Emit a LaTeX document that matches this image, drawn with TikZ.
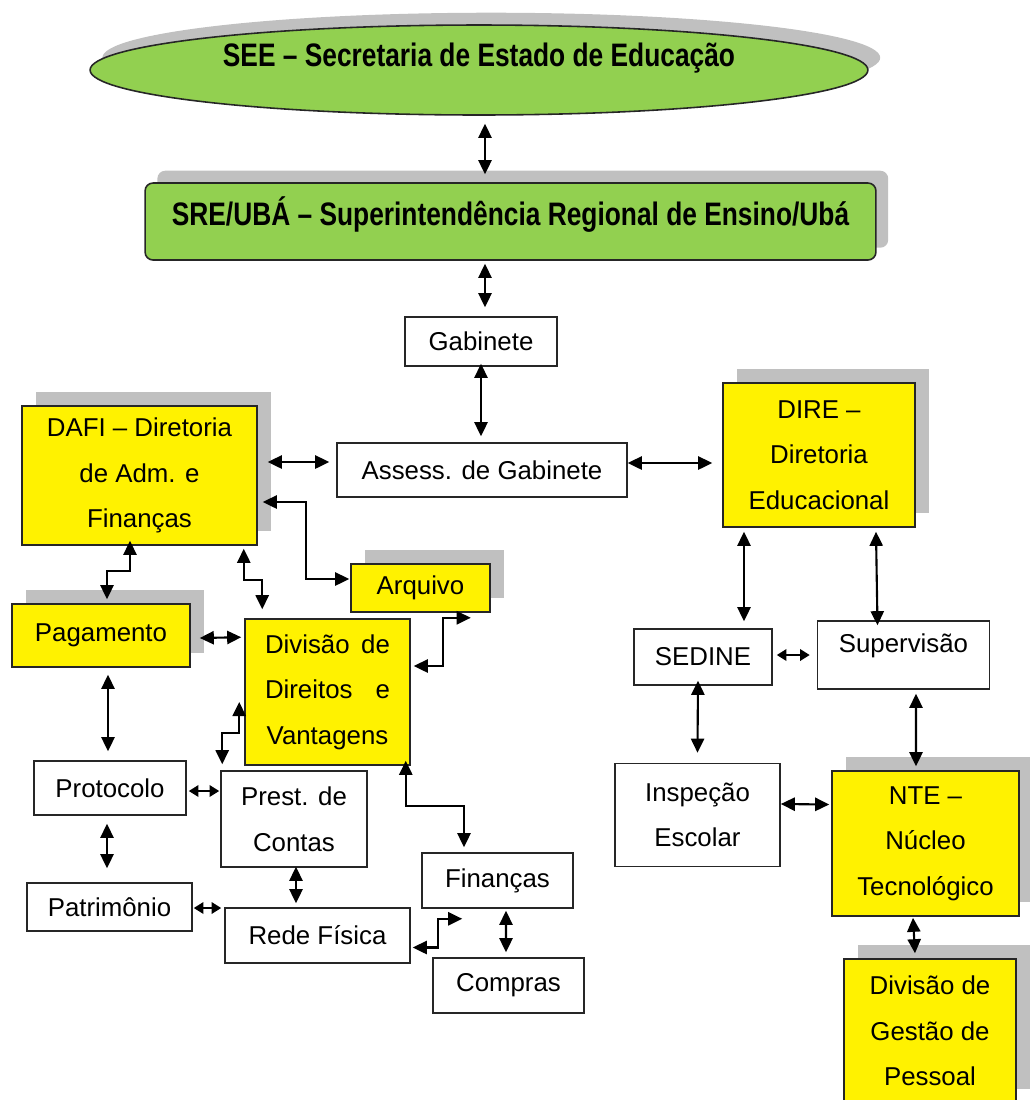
\documentclass[tikz,border=0pt]{standalone}
\usepackage{fontspec}
\setmainfont{Liberation Sans}
\newfontfamily\titlefont[FakeStretch=0.81]{Liberation Sans}
\usepackage{tikz}
\usetikzlibrary{arrows.meta,shapes,shadows}
\definecolor{boxgreen}{HTML}{92D050}
\definecolor{shadowgray}{HTML}{C0C0C0}
\tikzstyle{unit}=[draw=black!85, line width=0.9pt, fill=white, inner sep=0pt,
                  align=center, font=\fontsize{14.7pt}{26pt}\selectfont]
\tikzstyle{dept}=[unit, fill=yellow, drop shadow={shadow xshift=8pt,
                  shadow yshift=8pt, fill=shadowgray, opacity=1}]
\tikzstyle{head}=[draw=black!85, line width=0.9pt, fill=boxgreen, inner sep=0pt,
                  font=\titlefont\bfseries\fontsize{18.5pt}{22pt}\selectfont,
                  drop shadow={shadow xshift=7pt, shadow yshift=7pt,
                  fill=shadowgray, opacity=1}]
\tikzstyle{link}=[<->, >={Triangle[length=8pt,width=7.5pt]}, line width=1.2pt]
\tikzstyle{shortlink}=[link, >={Triangle[length=5.5pt,width=6.5pt]}]

\begin{document}
\begin{tikzpicture}[x=0.02cm, y=-0.02cm]
\useasboundingbox (0,0) rectangle (1029,1100);
\node[head, ellipse, minimum width=15.56cm, minimum height=1.8cm, text depth=17pt]
  (see) at (479,70) {SEE – Secretaria de Estado de Educação};
\node[head, rounded corners=4.5pt, minimum width=14.62cm, minimum height=1.54cm,
  text depth=12pt] (sre) at (510.5,221.5) {SRE/UBÁ – Superintendência Regional de Ensino/Ubá};
\node[unit, minimum width=3.04cm, minimum height=0.98cm] (gab) at (481,341.5) {Gabinete};
\node[unit, minimum width=5.8cm, minimum height=1.08cm] (assess) at (482,470) {Assess. de Gabinete};
% administrativo
\node[dept, minimum width=4.7cm, minimum height=2.78cm] (dafi) at (139.5,475.5)
  {DAFI – Diretoria\\de Adm. e\\Finanças};
\node[dept, minimum width=2.78cm, minimum height=0.96cm] (arquivo) at (420.5,588) {Arquivo};
\node[dept, minimum width=3.56cm, minimum height=1.26cm] (pag) at (101,635.5) {Pagamento};
\node[unit, fill=yellow, minimum width=3.3cm, minimum height=2.92cm, text width=2.5cm]
  (ddv) at (327.5,692) {Divisão\hfill de\\Direitos\hfill e\\Vantagens};
\node[unit, minimum width=3.04cm, minimum height=1.08cm] (prot) at (110,788) {Protocolo};
\node[unit, minimum width=2.92cm, minimum height=1.92cm] (prest) at (294,819) {Prest. de\\Contas};
\node[unit, minimum width=3.3cm, minimum height=0.96cm] (patr) at (109.5,907) {Patrimônio};
\node[unit, minimum width=3.7cm, minimum height=1.1cm] (rede) at (317.5,935.5) {Rede Física};
\node[unit, minimum width=3.02cm, minimum height=1.1cm] (fin) at (497.5,880.5) {Finanças};
\node[unit, minimum width=3.02cm, minimum height=1.1cm] (comp) at (508.5,985.5) {Compras};
% educacional
\node[dept, minimum width=3.84cm, minimum height=2.88cm] (dire) at (819,455)
  {DIRE –\\Diretoria\\Educacional};
\node[unit, minimum width=2.76cm, minimum height=1.12cm] (sedine) at (703,657) {SEDINE};
\node[unit, minimum width=3.44cm, minimum height=1.36cm, text depth=13pt]
  (sup) at (903.5,655) {Supervisão};
\node[unit, minimum width=3.3cm, minimum height=2.06cm] (insp) at (697.5,815) {Inspeção\\Escolar};
\node[dept, minimum width=3.74cm, minimum height=2.9cm] (nte) at (925.5,843.5)
  {NTE –\\Núcleo\\Tecnológico};
\node[dept, minimum width=3.44cm, minimum height=2.88cm] (dgp) at (930,1031)
  {Divisão de\\Gestão de\\Pessoal};

\draw[link] ([shift={(6,8)}]see.south) -- ([shift={(-25.5,-8)}]sre.north);
\draw[link] ([shift={(-25.5,3)}]sre.south) -- ([shift={(4,-9)}]gab.north);
\draw[link] ([shift={(0,-3)}]gab.south) -- ([shift={(-1,-6)}]assess.north);
\draw[link] ([shift={(10,-13.5)}]dafi.east) -- ([shift={(-7,-8)}]assess.west);
\draw[link] ([shift={(5,26.5)}]dafi.east) -- ++(43,0) |- ([shift={(-1,-9)}]arquivo.west);
\draw[link] ([shift={(-9.5,-5)}]dafi.south) -- ++(0,30) -| ([shift={(6,-4)}]pag.north);
\draw[link] ([shift={(-14,3)}]dafi.south east) -- ++(0,31) -| ([shift={(18,-9)}]ddv.north west);
\draw[link] ([shift={(9,2.5)}]pag.east) -- ([shift={(-3,19)}]ddv.north west);
\draw[link] ([shift={(3,-26)}]ddv.east) -- ++(29,0) |- ([shift={(-20,5)}]arquivo.south east);
\draw[link] ([shift={(-5,10)}]ddv.west) -- ++(0,31) -| ([shift={(2,-6)}]prest.north west);
\draw[link] ([shift={(-5,-5)}]ddv.south east) -- ++(0,45) -| ([shift={(-33.5,-5)}]fin.north);
\draw[link] ([shift={(2,12)}]rede.east) -- ++(25,0) |- ([shift={(41,10)}]fin.south west);
\draw[link] ([shift={(8.5,2)}]fin.south) -- ([shift={(-2.5,-5)}]comp.north);
\draw[link] ([shift={(2,-1)}]prest.south) -- ([shift={(-21.5,-4)}]rede.north);
\draw[shortlink] ([shift={(2,3)}]prot.east) -- ([shift={(-1,-28)}]prest.west);
\draw[shortlink] ([shift={(1,1)}]patr.east) -- ([shift={(-3,-27.5)}]rede.west);
\draw[link] ([shift={(7,7)}]pag.south) -- ([shift={(-2,-9)}]prot.north);
\draw[link] ([shift={(-3,8)}]prot.south) -- ([shift={(-2.5,-14)}]patr.north);
\draw[link] ([shift={(0,-7)}]assess.east) -- ([shift={(-10,8)}]dire.west);
\draw[link] ([shift={(-75,4)}]dire.south) -- ([shift={(41,-7)}]sedine.north);
\draw[link] ([shift={(57,4)}]dire.south) -- ([shift={(-26,5)}]sup.north);
\draw[shortlink] ([shift={(4,-2)}]sedine.east) -- ([shift={(-7,0)}]sup.west);
\draw[link] ([shift={(-5,-5)}]sedine.south) -- ([shift={(0,-10)}]insp.north);
\draw[link] ([shift={(12.5,4)}]sup.south) -- ([shift={(-9.5,-4)}]nte.north);
\draw[link] ([shift={(0,-11)}]insp.east) -- ([shift={(-2,-39)}]nte.west);
\draw[link] ([shift={(-12.5,1)}]nte.south) -- ([shift={(-15,-5)}]dgp.north);
\end{tikzpicture}
\end{document}
